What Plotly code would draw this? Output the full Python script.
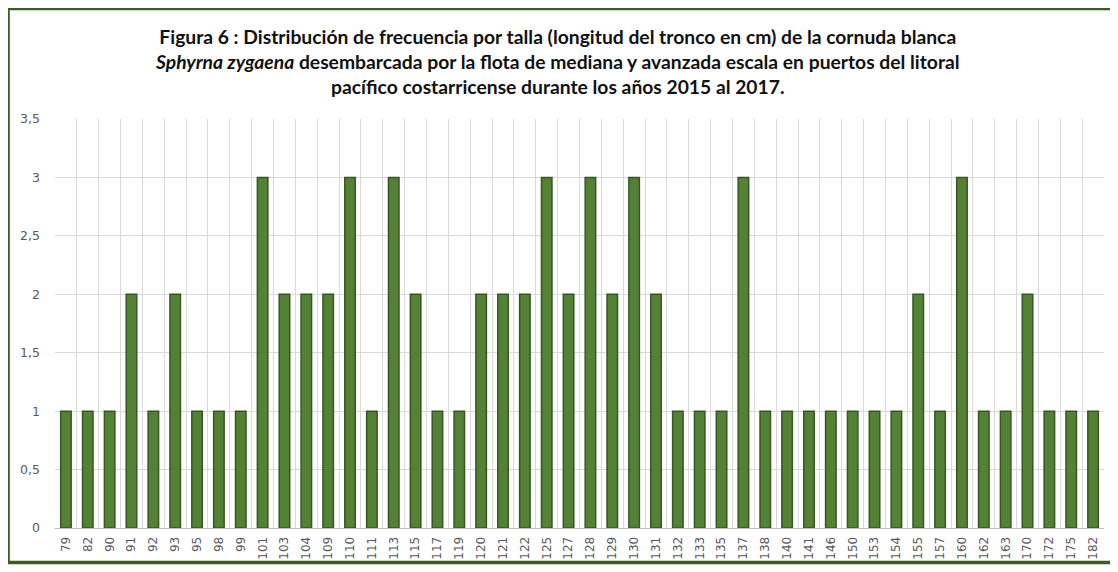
import plotly.graph_objects as go

tallas = ["79", "82", "90", "91", "92", "93", "95", "98", "99", "101", "103", "104", "109", "110",
          "111", "113", "115", "117", "119", "120", "121", "122", "125", "127", "128", "129", "130",
          "131", "132", "133", "135", "137", "138", "140", "141", "146", "150", "153", "154", "155",
          "157", "160", "162", "163", "170", "172", "175", "182"]
frecuencia = [1, 1, 1, 2, 1, 2, 1, 1, 1, 3, 2, 2, 2, 3,
              1, 3, 2, 1, 1, 2, 2, 2, 3, 2, 3, 2, 3,
              2, 1, 1, 1, 3, 1, 1, 1, 1, 1, 1, 1, 2,
              1, 3, 1, 1, 2, 1, 1, 1]
y_ticks = [0, 0.5, 1, 1.5, 2, 2.5, 3, 3.5]

titulo = ("<b>Figura 6 : Distribución de frecuencia por talla (longitud del tronco en cm) de la cornuda blanca<br>"
          "<i>Sphyrna zygaena</i> desembarcada por la flota de mediana y avanzada escala en puertos del litoral<br>"
          "pacífico costarricense durante los años 2015 al 2017.</b>")

# page body has an 8px margin: work in figure coordinates shifted by 8px
OFF = 8
W, H = 1118 - OFF, 572 - OFF
L, R, T, B = 54 - OFF, 14, 119 - OFF, 45 - OFF
pw, ph = W - L - R, H - T - B

def px(xp):
    return (xp - OFF - L) / pw

def py(yp):
    return (H - B - (yp - OFF)) / ph

fig = go.Figure()
fig.add_trace(go.Bar(
    x=tallas, y=frecuencia,
    marker=dict(color="#548235", line=dict(color="#375623", width=1.5)),
    width=0.48,
))

fig.update_layout(
    width=W, height=H,
    margin=dict(l=L, r=R, t=T, b=B),
    paper_bgcolor="white", plot_bgcolor="white",
    separators=",.",
    showlegend=False,
    font=dict(family="Lato, Open Sans, sans-serif", color="#595959"),
    xaxis=dict(
        type="category", tickson="boundaries", ticks="",
        showgrid=True, gridcolor="#d9d9d9", gridwidth=1,
        showline=True, linecolor="#bfbfbf", linewidth=1,
        tickangle=-90, tickfont=dict(size=12, color="#595959", family="DejaVu Sans"),
        ticklabelstandoff=3,
    ),
    yaxis=dict(
        range=[0, 3.5], tickvals=y_ticks,
        showgrid=True, gridcolor="#d9d9d9", gridwidth=1,
        zeroline=False, showline=False, ticks="",
        tickfont=dict(size=12.5, color="#595959", family="DejaVu Sans"),
        ticklabelstandoff=14,
    ),
    bargap=0.52,
)

fig.add_annotation(
    text=titulo, xref="paper", yref="paper",
    x=px(557), y=py(61), xanchor="center", yanchor="middle",
    showarrow=False, align="center",
    font=dict(family="Lato, sans-serif", size=19.3, color="#111111"),
)

fig.add_shape(
    type="rect", xref="paper", yref="paper",
    x0=px(7), x1=px(1130), y0=py(570), y1=py(6.5),
    line=dict(color="#3b5e20", width=3.5), fillcolor="rgba(0,0,0,0)", layer="below",
)

fig.write_html("out.html")
